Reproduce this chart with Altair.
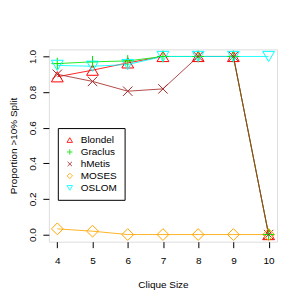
import altair as alt
import pandas as pd

clique_sizes = [4, 5, 6, 7, 8, 9, 10]
methods = ["Blondel", "Graclus", "hMetis", "MOSES", "OSLOM"]
blondel = [0.886, 0.923, 0.964, 1.0, 1.0, 1.0, 0.0]
graclus = [0.96, 0.97, 0.975, 1.0, 1.0, 1.0, 0.0]
hmetis = [0.90, 0.86, 0.805, 0.818, 1.0, 1.0, 0.0]
moses = [0.032, 0.019, 0.0, 0.0, 0.0, 0.0, 0.0]
oslom = [0.95, 0.945, 0.955, 1.0, 1.0, 1.0, 1.0]
colors = ["#FF0000", "#00E600", "#A52A2A", "#FFA500", "#00FFFF"]
shapes = [
    "triangle-up",
    "M-1,0L1,0M0,-1L0,1",
    "M-0.8,-0.8L0.8,0.8M-0.8,0.8L0.8,-0.8",
    "diamond",
    "triangle-down",
]
y_ticks = [0.0, 0.2, 0.4, 0.6, 0.8, 1.0]

series = [blondel, graclus, hmetis, moses, oslom]
rows = []
for m, vals in zip(methods, series):
    for x, v in zip(clique_sizes, vals):
        rows.append({"size": x, "prop": v, "method": m})
df = pd.DataFrame(rows)

font = "Liberation Sans"

x_enc = alt.X(
    "size:Q",
    scale=alt.Scale(domain=[3.76, 10.24], nice=False, zero=False),
    axis=alt.Axis(
        values=clique_sizes, title="Clique Size", grid=False, domain=False,
        tickSize=6, tickColor="black", labelPadding=8, labelFontSize=10,
        labelFont=font, labelColor="black", titleFont=font, titleFontSize=10,
        titleFontWeight="normal", titleColor="black", titlePadding=14,
        format="d",
    ),
)
y_enc = alt.Y(
    "prop:Q",
    scale=alt.Scale(domain=[-0.04, 1.04], nice=False, zero=False),
    axis=alt.Axis(
        values=y_ticks, title="Proportion >10% Split", grid=False, domain=False,
        tickSize=6, tickColor="black", labelPadding=5, labelFontSize=10,
        labelFont=font, labelColor="black", labelAngle=270, labelAlign="center",
        labelBaseline="bottom", format=".1f", titleFont=font, titleFontSize=10,
        titleFontWeight="normal", titleColor="black", titleX=-30,
    ),
)

color_scale = alt.Scale(domain=methods, range=colors)
shape_scale = alt.Scale(domain=methods, range=shapes)
leg = alt.Legend(
    orient="none", legendX=9, legendY=79, title=None,
    strokeColor="black", fillColor="white", padding=7, cornerRadius=0,
    labelFont=font, labelFontSize=10, labelColor="black",
    symbolSize=30, symbolStrokeWidth=1, labelOffset=6, rowPadding=2,
)

lines = alt.Chart(df).mark_line(strokeWidth=1, opacity=0.85).encode(
    x=x_enc, y=y_enc,
    color=alt.Color("method:N", scale=color_scale, legend=leg, title=None),
    order="size:Q",
)

points = alt.Chart(df).mark_point(filled=False, size=140, strokeWidth=1, opacity=1).encode(
    x=x_enc, y=y_enc,
    color=alt.Color("method:N", scale=color_scale, legend=leg, title=None),
    shape=alt.Shape("method:N", scale=shape_scale, legend=leg, title=None),
)

chart = (
    alt.layer(lines, points)
    .properties(
        width=229, height=193,
        autosize=alt.AutoSizeParams(type="none"),
        padding={"left": 41, "top": 41, "right": 20, "bottom": 50},
    )
    .configure_view(stroke="black", strokeWidth=1)
    .configure(background="white")
)

chart.save("out.html", embed_options={"renderer": "svg", "actions": False})
